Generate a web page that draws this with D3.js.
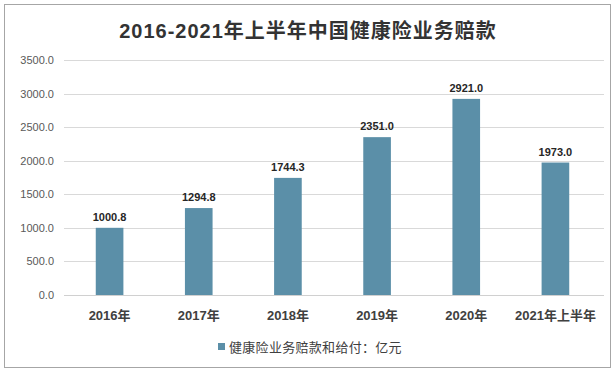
<!DOCTYPE html>
<html>
<head>
<meta charset="utf-8">
<script src="https://cdn.jsdelivr.net/npm/d3@7"></script>
<style>
  body { margin: 0; background: #fff; }
  svg text { font-family: "Liberation Sans", "Noto Sans CJK SC", sans-serif; }
</style>
</head>
<body>
<div class="chart"></div>
<script>
const categories = ["2016年", "2017年", "2018年", "2019年", "2020年", "2021年上半年"];
const values = [1000.8, 1294.8, 1744.3, 2351.0, 2921.0, 1973.0];
const yTicks = [0, 500, 1000, 1500, 2000, 2500, 3000, 3500];
const seriesName = "健康险业务赔款和给付：亿元";
const title = "2016-2021年上半年中国健康险业务赔款";

const width = 616;
const height = 376;
const barColor = "#5b8fa8";

let svg = d3.select(".chart").append("svg")
    .attr("width", width)
    .attr("height", height);

// outer frame
svg.append("rect")
    .attr("x", 4.5).attr("y", 4.5)
    .attr("width", 606).attr("height", 363)
    .attr("fill", "#fff")
    .attr("stroke", "#a6a6a6");

let xScale = d3.scaleBand()
    .domain(categories)
    .range([65, 600])
    .paddingInner(0.69)
    .paddingOuter(0.345);

let yScale = d3.scaleLinear()
    .domain([0, 3500])
    .range([295, 60]);

// gridlines
svg.append("g")
    .selectAll("line")
    .data(yTicks)
    .enter()
    .append("line")
    .attr("x1", 64).attr("x2", 604)
    .attr("y1", d => Math.round(yScale(d)) + 0.5)
    .attr("y2", d => Math.round(yScale(d)) + 0.5)
    .attr("stroke", d => d === 0 ? "#d0d0d0" : "#d9d9d9");

// y axis labels
let yAxis = d3.axisLeft(yScale).tickValues(yTicks).tickFormat(d3.format(".1f")).tickSize(0).tickPadding(0);
svg.append("g")
    .attr("transform", "translate(54,0)")
    .call(yAxis)
    .call(g => g.select(".domain").remove())
    .selectAll("text")
    .style("font-family", "Liberation Sans, sans-serif")
    .style("font-size", "11px")
    .attr("fill", "#595959");

// bars
svg.selectAll(".bar")
    .data(values)
    .enter()
    .append("rect")
    .attr("class", "bar")
    .attr("x", (d, i) => xScale(categories[i]))
    .attr("y", d => yScale(d))
    .attr("width", xScale.bandwidth())
    .attr("height", d => yScale(0) - yScale(d))
    .attr("fill", barColor);

// value labels
svg.selectAll(".val")
    .data(values)
    .enter()
    .append("text")
    .attr("class", "val")
    .attr("x", (d, i) => xScale(categories[i]) + xScale.bandwidth() / 2)
    .attr("y", d => yScale(d) - 7)
    .attr("text-anchor", "middle")
    .style("font-size", "11px")
    .style("font-weight", "bold")
    .attr("fill", "#262626")
    .text(d => d.toFixed(1));

// x axis labels
let xAxis = d3.axisBottom(xScale).tickSize(0).tickPadding(0);
svg.append("g")
    .attr("transform", "translate(0,311)")
    .call(xAxis)
    .call(g => g.select(".domain").remove())
    .selectAll("text")
    .style("font-family", "Liberation Sans, Noto Sans CJK SC, sans-serif")
    .style("font-size", "13px")
    .style("font-weight", "bold")
    .attr("fill", "#404040");

// title
svg.append("text")
    .attr("x", 308)
    .attr("y", 38)
    .attr("text-anchor", "middle")
    .style("font-size", "20px")
    .style("font-weight", "bold")
    .style("letter-spacing", "1px")
    .attr("fill", "#333")
    .text(title);

// legend
svg.append("rect")
    .attr("x", 218).attr("y", 343)
    .attr("width", 7).attr("height", 7)
    .attr("fill", barColor);
svg.append("text")
    .attr("x", 229)
    .attr("y", 352)
    .style("font-size", "13px")
    .style("letter-spacing", "0.3px")
    .attr("fill", "#404040")
    .text(seriesName);
</script>
</body>
</html>
